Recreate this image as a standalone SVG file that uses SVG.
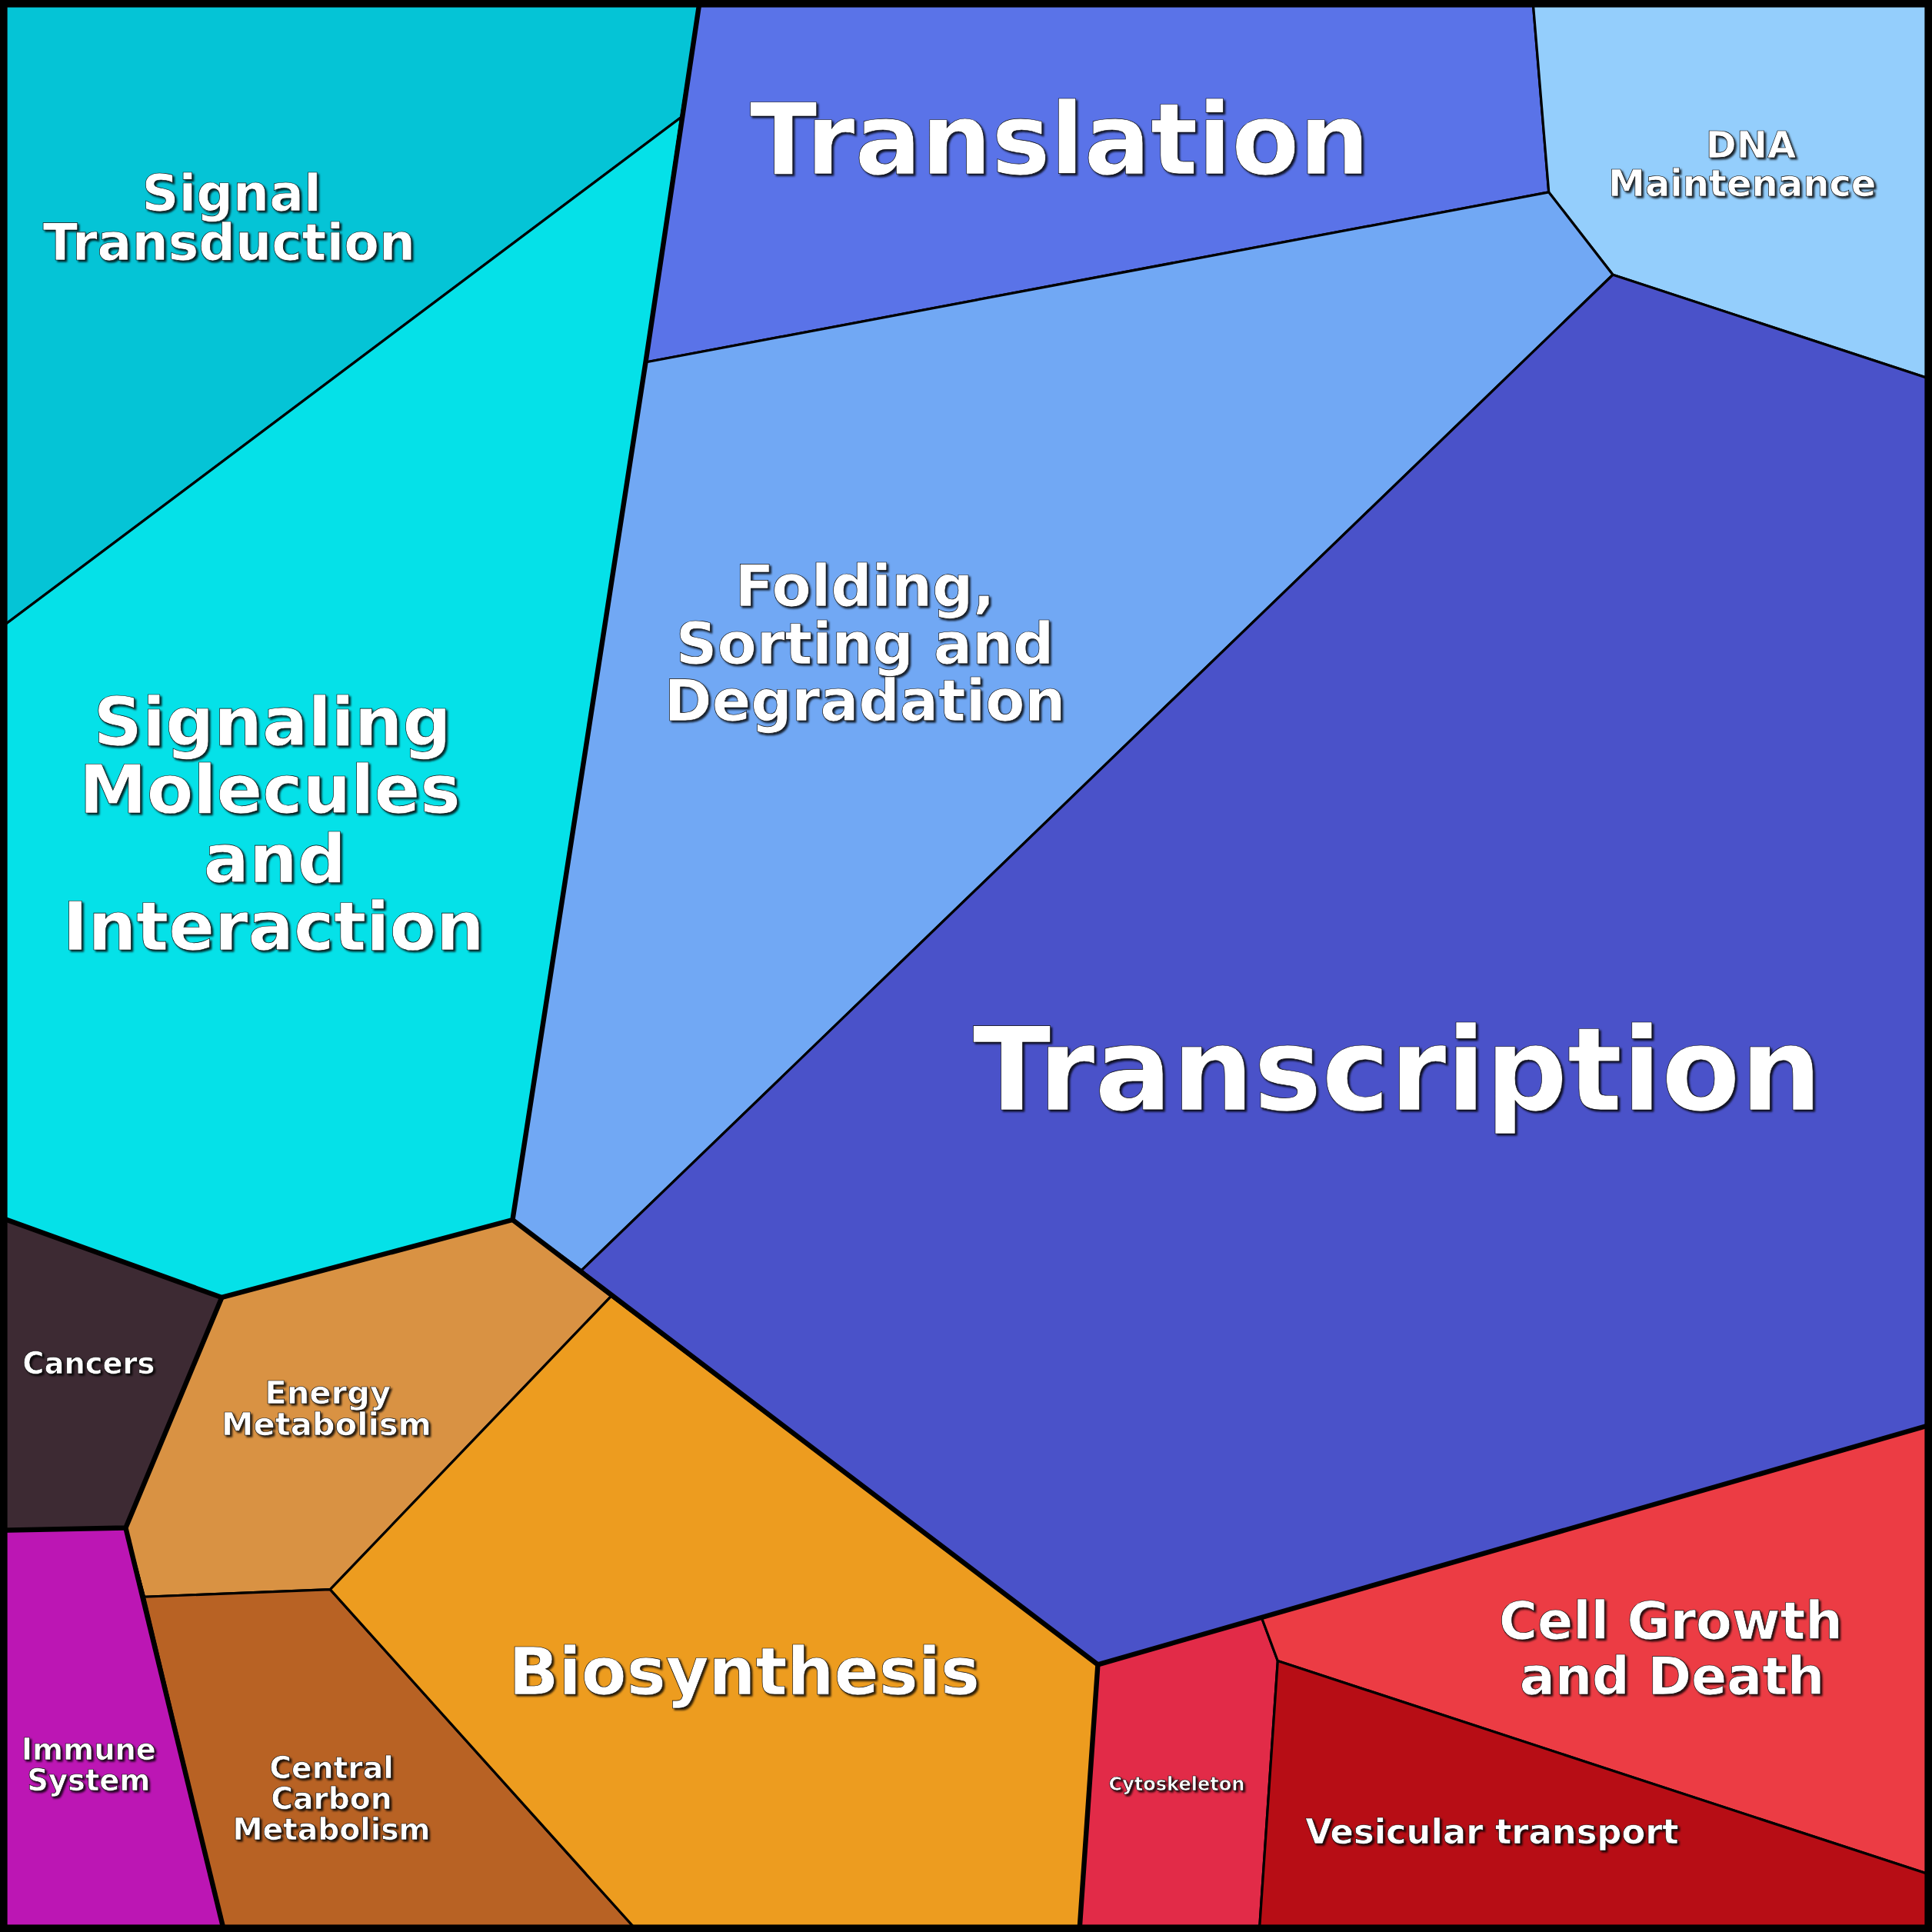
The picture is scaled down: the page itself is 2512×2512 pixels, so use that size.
<svg xmlns="http://www.w3.org/2000/svg" width="2512" height="2512" viewBox="0 0 2512 2512">
<style>
.c{stroke:#000;stroke-width:2;stroke-linejoin:round}
.t{font-family:"DejaVu Sans",sans-serif;font-weight:bold;fill:#fff;text-anchor:middle;stroke:#000;stroke-width:0.4}
.b{fill:none;stroke:#000;stroke-width:4;stroke-linejoin:round}
</style>
<defs><filter id="sh"><feDropShadow dx="1.5" dy="1.5" stdDeviation="0.8" flood-color="#000" flood-opacity="0.8"/></filter></defs>
<g transform="scale(1.60204)">
<g id="signal-transduction"><polygon class="c" fill="#05C4D6" points="0,0 568,0 553,95 0,510"/><text class="t" filter="url(#sh)" font-size="41.5" x="188" y="171">Signal</text><text class="t" filter="url(#sh)" font-size="41.5" x="186" y="211">Transduction</text></g>
<g id="signaling-molecules"><polygon class="c" fill="#05E1E8" points="0,510 553,95 524,294 416,990 180,1053 0,988"/><text class="t" filter="url(#sh)" font-size="55" x="221" y="605">Signaling</text><text class="t" filter="url(#sh)" font-size="55" x="219" y="660">Molecules</text><text class="t" filter="url(#sh)" font-size="55" x="223" y="716">and</text><text class="t" filter="url(#sh)" font-size="55" x="222" y="771">Interaction</text></g>
<g id="translation"><polygon class="c" fill="#5A73E8" points="568,0 1244,0 1257,156 524,294 553,95"/><text class="t" filter="url(#sh)" font-size="80" x="860" y="141">Translation</text></g>
<g id="dna-maintenance"><polygon class="c" fill="#94CEFC" points="1244,0 1568,0 1568,308 1309,223 1257,156"/><text class="t" filter="url(#sh)" font-size="30" x="1421" y="128">DNA</text><text class="t" filter="url(#sh)" font-size="30" x="1414" y="159">Maintenance</text></g>
<g id="folding"><polygon class="c" fill="#71A8F4" points="524,294 1257,156 1309,223 472,1031 416,990"/><text class="t" filter="url(#sh)" font-size="46.5" x="702" y="492">Folding,</text><text class="t" filter="url(#sh)" font-size="46.5" x="702" y="539">Sorting and</text><text class="t" filter="url(#sh)" font-size="46.5" x="702" y="585">Degradation</text></g>
<g id="transcription"><polygon class="c" fill="#4A52C9" points="1309,223 1568,308 1568,1156 1024,1313 891,1351 496,1052 472,1031"/><text class="t" filter="url(#sh)" font-size="93" x="1134" y="901">Transcription</text></g>
<g id="cancers"><polygon class="c" fill="#3D2A33" points="0,988 180,1053 102,1240 0,1242"/><text class="t" filter="url(#sh)" font-size="24" x="72" y="1115">Cancers</text></g>
<g id="energy-metabolism"><polygon class="c" fill="#D99243" points="180,1053 416,990 496,1052 268,1290 117,1296 102,1240"/><text class="t" filter="url(#sh)" font-size="26" x="266" y="1139">Energy</text><text class="t" filter="url(#sh)" font-size="26" x="265" y="1165">Metabolism</text></g>
<g id="immune-system"><polygon class="c" fill="#BC16B4" points="0,1242 102,1240 117,1296 182,1568 0,1568"/><text class="t" filter="url(#sh)" font-size="24" x="72" y="1428">Immune</text><text class="t" filter="url(#sh)" font-size="24" x="72" y="1453">System</text></g>
<g id="central-carbon"><polygon class="c" fill="#B86224" points="117,1296 268,1290 518,1568 182,1568"/><text class="t" filter="url(#sh)" font-size="24.5" x="269" y="1443">Central</text><text class="t" filter="url(#sh)" font-size="24.5" x="269" y="1468">Carbon</text><text class="t" filter="url(#sh)" font-size="24.5" x="269" y="1493">Metabolism</text></g>
<g id="biosynthesis"><polygon class="c" fill="#ED9C1F" points="268,1290 496,1052 891,1351 876,1568 518,1568"/><text class="t" filter="url(#sh)" font-size="53.5" x="604" y="1375">Biosynthesis</text></g>
<g id="cytoskeleton"><polygon class="c" fill="#E22B48" points="891,1351 1024,1313 1037,1348 1022,1568 876,1568"/><text class="t" filter="url(#sh)" font-size="15" x="955" y="1453" stroke-width="0.2">Cytoskeleton</text></g>
<g id="cell-growth"><polygon class="c" fill="#EC3C44" points="1024,1313 1568,1156 1568,1522 1037,1348"/><text class="t" filter="url(#sh)" font-size="42.5" x="1356" y="1330">Cell Growth</text><text class="t" filter="url(#sh)" font-size="42.5" x="1357" y="1375">and Death</text></g>
<g id="vesicular-transport"><polygon class="c" fill="#B70D15" points="1037,1348 1568,1522 1568,1568 1022,1568"/><text class="t" filter="url(#sh)" font-size="28" x="1211" y="1496">Vesicular transport</text></g>
<g id="connectors">
<polyline class="b" points="568,0 524,294 416,990 180,1053 0,988"/>
<polyline class="b" points="416,990 891,1351 876,1568"/>
<polyline class="b" points="891,1351 1568,1156"/>
<polyline class="b" points="180,1053 102,1240 0,1242"/>
<polyline class="b" points="102,1240 182,1568"/>
<rect x="3" y="3" width="1562" height="1562" fill="none" stroke="#000" stroke-width="6"/>
</g>
</g>
</svg>
